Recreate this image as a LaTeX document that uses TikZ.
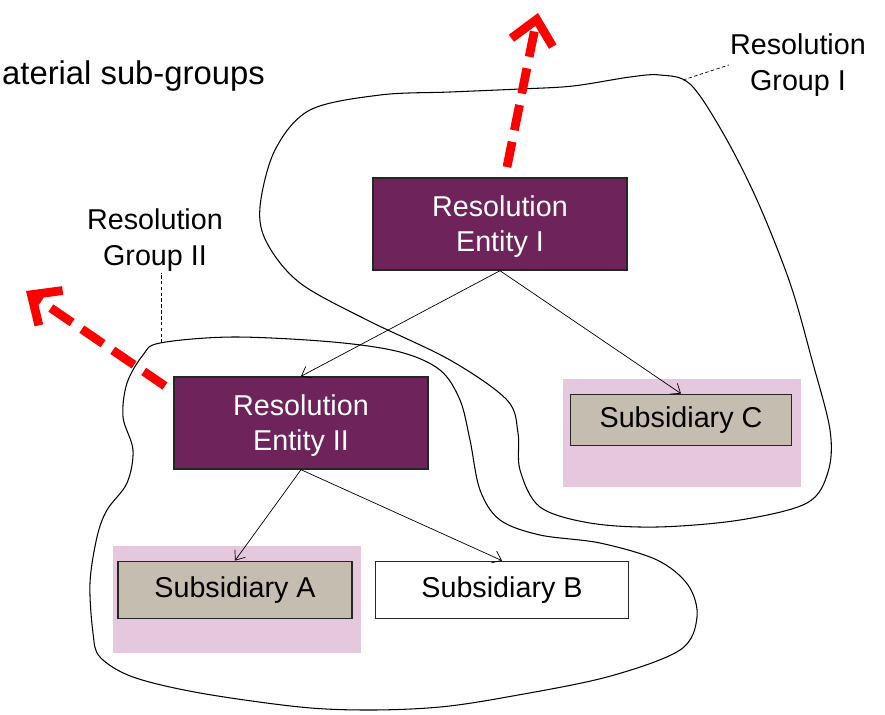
\documentclass[tikz,border=0pt]{standalone}
\usepackage{fontspec}
\setmainfont{Liberation Sans}
\usetikzlibrary{arrows.meta}
\definecolor{entitypurple}{RGB}{110,36,90}
\definecolor{subgray}{RGB}{197,190,176}
\definecolor{pinkbg}{RGB}{230,200,222}
\begin{document}
\begin{tikzpicture}[x=0.03cm, y=-0.03cm,
        entity/.style = {draw=black!85, line width=1.2pt, fill=entitypurple, text=white, align=center,
                         minimum width=7.62cm, minimum height=2.76cm, inner sep=0pt,
                         font=\fontsize{24.5}{30.5}\selectfont},
        sub/.style = {draw=black!85, line width=1.5pt, minimum height=1.71cm, inner sep=0pt,
                      font=\fontsize{24.5}{30}\selectfont},
        link/.style = {line width=0.6pt, -{Straight Barb[length=7pt,width=11pt]}},
        escape/.style = {red, line width=7.5pt, dash pattern=on 22pt off 10pt,
                         -{Straight Barb[length=20pt,width=36pt]}},
        blob/.style = {line width=0.9pt},
        leader/.style = {line width=0.6pt, dash pattern=on 3pt off 2pt},
        grouplabel/.style = {align=center, inner sep=1pt, font=\fontsize{24.5}{30.5}\selectfont}]
    \clip (0,0) rectangle (885,714);

    % pink backgrounds
    \fill[pinkbg] (113,546) rectangle (361,653);
    \fill[pinkbg] (563,379) rectangle (801,487);

    % Group I
    \draw[blob] plot[smooth cycle, tension=0.55] coordinates {
        (310,110) (380,95) (450,92) (520,89) (573,86) (630,77) (660,75) (690,84)
        (723,133) (757,200) (790,283) (812,360) (830,430) (828,472) (807,503)
        (740,520) (657,527) (590,523) (540,507) (520,470) (518,433) (507,400)
        (450,360) (367,320) (300,283) (267,243) (260,207) (275,150)};

    % Group II
    \draw[blob] plot[smooth cycle, tension=0.55] coordinates {
        (160,343) (233,337) (333,342) (400,352) (440,370) (460,400) (470,440)
        (480,490) (500,520) (540,535) (600,543) (657,560) (688,585) (697,617)
        (680,650) (607,677) (507,697) (440,707) (370,710) (300,707) (200,693)
        (133,677) (100,657) (93,633) (90,583) (97,537) (107,510) (127,483)
        (133,450) (123,417) (127,383) (143,355)};

    % boxes
    \node[entity] (entI) at (500,224) {\rule{0pt}{22pt}Resolution\\Entity I};
    \node[entity] (entII) at (301,423) {\rule{0pt}{22pt}Resolution\\Entity II};
    \node[sub, fill=subgray, minimum width=7.02cm] (subA) at (235,590) {Subsidiary A};
    \node[sub, fill=white, minimum width=7.59cm] (subB) at (502,590) {Subsidiary B};
    \node[sub, fill=subgray, minimum width=6.63cm, minimum height=1.53cm] (subC) at (681,420) {Subsidiary C};

    \draw[link] (entI.south) -- (entII.north);
    \draw[link] (entI.south) -- (subC.north);
    \draw[link] (entII.south) -- (subA.north);
    \draw[link] (entII.south) -- (subB.north);

    % labels
    \node[anchor=base east, inner sep=0pt, font=\fontsize{28}{33}\selectfont] (title) at (265,84) {Material sub-groups};
    \node[grouplabel] (lblI) at (798,65) {Resolution\\Group I};
    \node[grouplabel] (lblII) at (155,240) {Resolution\\Group II};

    \coordinate (g1tip) at (683,80);
    \coordinate (g2tip) at (161,343);
    \draw[leader] (g1tip) -- (lblI.west);
    \draw[leader] (g2tip) -- (g2tip |- lblII.south);

    % red arrows
    \coordinate (upI) at (538,13);
    \coordinate (outII) at (26,291);
    \draw[escape] (507,167) -- (upI);
    \draw[escape] (165,386) -- (outII);
\end{tikzpicture}
\end{document}
